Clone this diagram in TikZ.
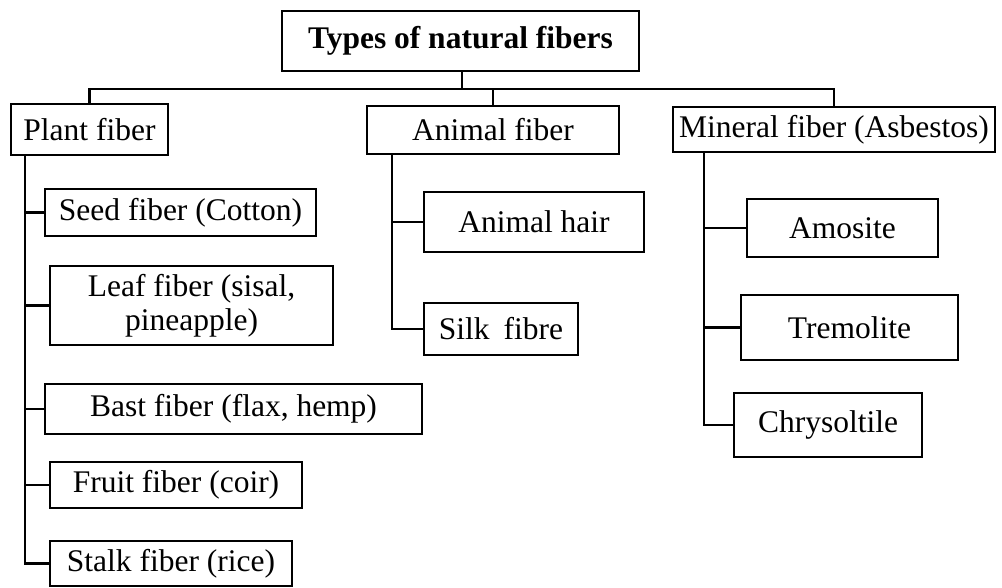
\documentclass[tikz,border=0pt]{standalone}
\usepackage{fontspec}
\setmainfont{Liberation Serif}
\begin{document}
\begin{tikzpicture}[x=1pt,y=-1pt,
  box/.style={draw, line width=2.3pt, inner sep=0pt, align=center,
    font=\fontsize{31.5}{34}\selectfont},
  link/.style={line width=2.1pt}]
\useasboundingbox (0,0) rectangle (1002,587);
% level 0 and 1
\node[box, minimum width=357pt, minimum height=60pt, font=\fontsize{31.5}{34}\selectfont\bfseries] (title) at (460.5,41) {Types of natural fibers};
\node[box, minimum width=157pt, minimum height=51pt] (plant) at (89.5,129.5) {Plant fiber};
\node[box, minimum width=252pt, minimum height=48pt] (animal) at (493,130) {Animal fiber};
\node[box, minimum width=322pt, minimum height=45pt] (mineral) at (834,129.5) {Mineral fiber (Asbestos)};
% plant children
\node[box, minimum width=271pt, minimum height=47pt] (seed) at (180.5,212.5) {Seed fiber (Cotton)};
\node[box, minimum width=283pt, minimum height=79pt] (leaf) at (191.5,305.5) {Leaf fiber (sisal,\\pineapple)};
\node[box, minimum width=377pt, minimum height=50pt] (bast) at (233.5,409) {Bast fiber (flax, hemp)};
\node[box, minimum width=252pt, minimum height=46pt] (fruit) at (176,485) {Fruit fiber (coir)};
\node[box, minimum width=242pt, minimum height=45pt] (stalk) at (171,563.5) {Stalk fiber (rice)};
% animal children
\node[box, minimum width=220pt, minimum height=59.5pt] (hair) at (534,222) {Animal hair};
\node[box, minimum width=154pt, minimum height=52pt] (silk) at (501,329) {Silk\hspace{0.45em}fibre};
% mineral children
\node[box, minimum width=191pt, minimum height=58pt] (amosite) at (842.5,228) {Amosite};
\node[box, minimum width=217pt, minimum height=65pt] (tremolite) at (849.5,327.5) {Tremolite};
\node[box, minimum width=188pt, minimum height=64.5pt] (chrys) at (828,425) {Chrysoltile};
% top connectors
\coordinate (bus) at (462,89);
\draw[link] (title.south -| bus) -- (bus);
\draw[link] (plant.north) |- (bus) -| (mineral.north);
\draw[link] (bus) -| (animal.north);
% trunks
\coordinate (pt) at ([xshift=15pt]plant.south west);
\coordinate (at) at ([xshift=26pt]animal.south west);
\coordinate (mt) at ([xshift=32pt]mineral.south west);
\draw[link] (pt) |- (stalk.west);
\draw[link] (pt |- seed.west) -- (seed.west);
\draw[link] (pt |- leaf.west) -- (leaf.west);
\draw[link] (pt |- bast.west) -- (bast.west);
\draw[link] (pt |- fruit.west) -- (fruit.west);
\draw[link] (at) |- (silk.west);
\draw[link] (at |- hair.west) -- (hair.west);
\draw[link] (mt) |- (chrys.west);
\draw[link] (mt |- amosite.west) -- (amosite.west);
\draw[link] (mt |- tremolite.west) -- (tremolite.west);
\end{tikzpicture}
\end{document}
